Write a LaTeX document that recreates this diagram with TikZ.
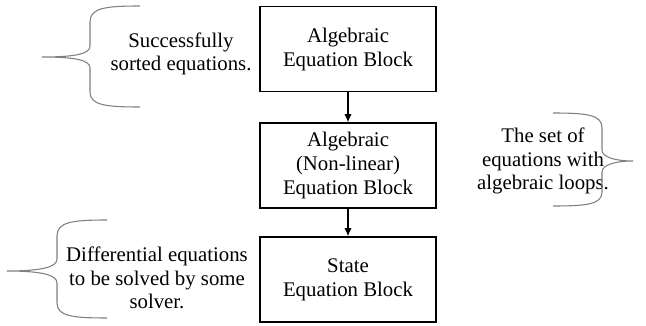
\documentclass[tikz,border=0pt]{standalone}
\usepackage{fontspec}
\setmainfont{Liberation Serif}
\usepackage{tikz}
\usetikzlibrary{arrows.meta, positioning}
\definecolor{bracegray}{RGB}{128,128,128}

\begin{document}
\begin{tikzpicture}[
    x=0.75pt, y=-0.75pt,
    block/.style={draw, line width=1.2pt, fill=white, align=center,
                  minimum width=132pt, minimum height=63.75pt,
                  inner sep=2pt, font=\fontsize{15.6}{18}\selectfont},
    note/.style={align=center, inner sep=1pt,
                 font=\fontsize{15.6}{17.5}\selectfont},
    arr/.style={-{Latex[length=6pt,width=5.5pt]}, line width=0.9pt},
    brace/.style={draw=bracegray, line width=0.8pt}
  ]
    \useasboundingbox (0,0) rectangle (646,325);

    \node[block] (algblock) at (348,49)
      {Algebraic\\Equation Block};
    \node[block] (nlblock) at (348,165.5)
      {Algebraic\\(Non-linear)\\Equation Block};
    \node[block] (stateblock) at (348,279.5)
      {State\\Equation Block};

    \draw[arr] (algblock)--(nlblock);
    \draw[arr] (nlblock)--(stateblock);

    \node[note] (sortednote) at (181,54)
      {Successfully\\sorted equations.};
    \node[note] (loopnote) at (543,161)
      {The set of\\equations with\\algebraic loops.};
    \node[note] (diffnote) at (157,278)
      {Differential equations\\to be solved by some\\solver.};

    % braces
    \draw[brace] (140,6) .. controls (105,6) and (90,8) .. (90,22)
      -- (90,46) .. controls (90,54) and (75,57) .. (42,57)
      .. controls (75,57) and (90,60) .. (90,68)
      -- (90,92) .. controls (90,105) and (105,107) .. (140,107);
    \draw[brace] (553,113) .. controls (588,113) and (602,115) .. (602,128)
      -- (602,150) .. controls (602,157) and (615,161) .. (633,161)
      .. controls (615,161) and (602,165) .. (602,172)
      -- (602,192) .. controls (602,204) and (588,206) .. (553,206);
    \draw[brace] (107,220) .. controls (72,220) and (57,222) .. (57,236)
      -- (57,259) .. controls (57,267) and (42,271) .. (7,271)
      .. controls (42,271) and (57,275) .. (57,283)
      -- (57,303) .. controls (57,316) and (72,318) .. (107,318);
  \end{tikzpicture}
\end{document}
